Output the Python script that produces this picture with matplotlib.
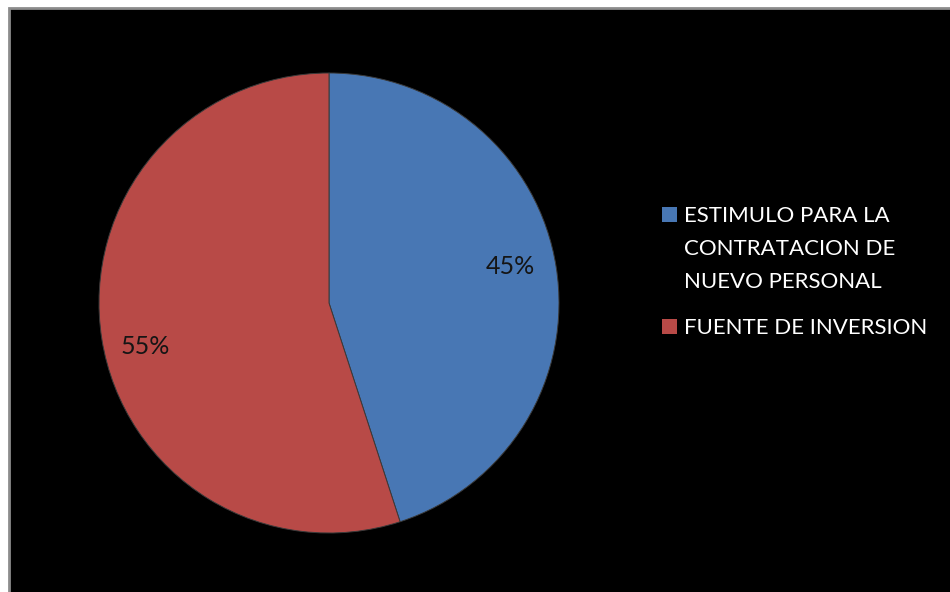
import matplotlib.pyplot as plt
from matplotlib.patches import Rectangle

# Slices, clockwise from 12 o'clock
labels = ["ESTIMULO PARA LA\nCONTRATACION DE\nNUEVO PERSONAL", "FUENTE DE INVERSION"]
values = [45, 55]
colors = ["#4877b4", "#b84a47"]
# where the percentage labels sit, in pie radii
pct_pos = [(0.79, 0.16), (-0.80, -0.19)]

plt.rcParams['font.family'] = ['Lato', 'DejaVu Sans']

W, H = 950, 592
fig = plt.figure(figsize=(W / 100, H / 100), dpi=100, facecolor="white")

# black chart area with a grey frame
frame = Rectangle((9 / W, -0.01), 1.1, 1.01 - 8 / H, transform=fig.transFigure,
                  facecolor="black", edgecolor="#8c8c8c", linewidth=2.0, zorder=-5)
fig.patches.append(frame)

ax = fig.add_axes([99 / W, 59 / H, 460 / W, 460 / H])
ax.set_facecolor("none")
wedges, texts, autotexts = ax.pie(
    values, colors=colors, startangle=90, counterclock=False,
    autopct="%d%%", pctdistance=0.81, radius=1.0,
    wedgeprops=dict(edgecolor="#3a3a3a", linewidth=0.7),
    textprops=dict(fontsize=18, color="#151515"))
for t, p in zip(autotexts, pct_pos):
    t.set_position(p)
ax.set_xlim(-1, 1)
ax.set_ylim(-1, 1)
ax.set_aspect("equal")
ax.axis("off")

# legend: square marker beside the first line of each entry
entry_tops = [207, 319]
for lab, col, top in zip(labels, colors, entry_tops):
    fig.patches.append(Rectangle((662 / W, 1 - (top + 15) / H), 15 / W, 15 / H,
                                 transform=fig.transFigure, facecolor=col,
                                 edgecolor="none"))
    fig.text(684 / W, 1 - (top - 1) / H, lab, ha="left", va="top",
             fontsize=16, color="white", linespacing=1.8)

fig.savefig("out.png", dpi=100, facecolor="white")
